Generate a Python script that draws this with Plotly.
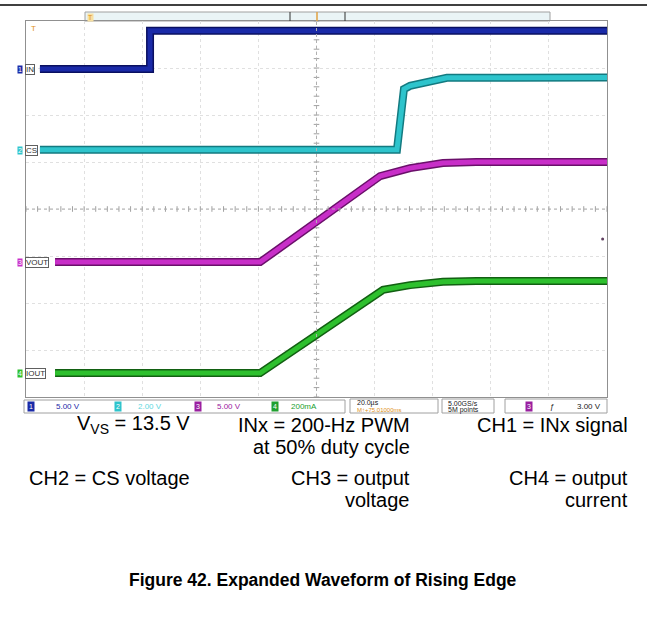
import numpy as np
import plotly.graph_objects as go

W, H = 647, 620

# scope screen: 10 x 8 divisions, 20 us/div, values in divisions
t_ch1 = [-95.2, -57.3, -57.3, 100.0]
v_ch1 = [2.98, 2.98, 3.79, 3.79]

t_ch2 = [-95.2, 27.7, 30.1, 32.2, 44.9, 100.0]
v_ch2 = [1.26, 1.26, 2.55, 2.62, 2.79, 2.80]

t_ch3 = [-90.0, -19.4, 21.9, 32.2, 43.5, 55.0, 100.0]
v_ch3 = [-1.13, -1.13, 0.70, 0.87, 0.98, 1.00, 1.00]

t_ch4 = [-90.0, -19.4, 22.9, 32.2, 43.5, 55.0, 100.0]
v_ch4 = [-3.49, -3.49, -1.72, -1.62, -1.55, -1.53, -1.53]

channels = [
    ('IN', t_ch1, v_ch1, '#1a2aa8', '#0a1060'),
    ('CS', t_ch2, v_ch2, '#2ec4cc', '#137a80'),
    ('VOUT', t_ch3, v_ch3, '#c82ec8', '#6a106a'),
    ('IOUT', t_ch4, v_ch4, '#2ec02e', '#126012'),
]

# plot area in pixels
L, R, T, B = 26, 607, 21, 397


def px(x):
    return x / W


def py(y):
    return 1 - y / H


fig = go.Figure()

# small tick marks on the centre cross
fig.add_trace(go.Scatter(
    x=np.arange(-100, 101, 4), y=np.zeros(51), mode='markers',
    marker=dict(symbol='line-ns', size=4, line=dict(color='#a0a0a0', width=1)),
    hoverinfo='skip', showlegend=False))
fig.add_trace(go.Scatter(
    x=np.zeros(41), y=np.arange(-4, 4.01, 0.2), mode='markers',
    marker=dict(symbol='line-ew', size=4, line=dict(color='#a0a0a0', width=1)),
    hoverinfo='skip', showlegend=False))

for name, t, v, col, edge in channels:
    fig.add_trace(go.Scatter(x=t, y=v, mode='lines', line=dict(color=edge, width=8),
                             hoverinfo='skip', showlegend=False))
    fig.add_trace(go.Scatter(x=t, y=v, mode='lines', line=dict(color=col, width=5),
                             name=name, showlegend=False))

# trigger level dot on the right
fig.add_trace(go.Scatter(x=[98.5], y=[-0.64], mode='markers',
                         marker=dict(color='#604060', size=3), showlegend=False))

shapes = [
    # rule at top of page
    dict(type='line', xref='paper', yref='paper', x0=0, x1=1, y0=py(5), y1=py(5),
         line=dict(color='black', width=1.5)),
    # centre cross
    dict(type='line', xref='x', yref='y', x0=0, x1=0, y0=-4, y1=4,
         line=dict(color='#b0b0b0', width=1, dash='dot')),
    dict(type='line', xref='x', yref='y', x0=-100, x1=100, y0=0, y1=0,
         line=dict(color='#b0b0b0', width=1, dash='dot')),
    # top record bar
    dict(type='rect', xref='paper', yref='paper', x0=px(85), x1=px(550), y0=py(21), y1=py(12),
         fillcolor='#eaf4f6', line=dict(color='#a0a0a0', width=1), layer='below'),
    dict(type='line', xref='paper', yref='paper', x0=px(290), x1=px(290), y0=py(21), y1=py(12),
         line=dict(color='#303030', width=1)),
    dict(type='line', xref='paper', yref='paper', x0=px(345), x1=px(345), y0=py(21), y1=py(12),
         line=dict(color='#303030', width=1)),
    dict(type='line', xref='paper', yref='paper', x0=px(317), x1=px(317), y0=py(21), y1=py(12),
         line=dict(color='#e0a040', width=1.5)),
    # bottom info bar boxes
    dict(type='rect', xref='paper', yref='paper', x0=px(24), x1=px(345), y0=py(413), y1=py(400),
         line=dict(color='#a0a0a0', width=1)),
    dict(type='rect', xref='paper', yref='paper', x0=px(350), x1=px(438), y0=py(413), y1=py(399),
         line=dict(color='#a0a0a0', width=1)),
    dict(type='rect', xref='paper', yref='paper', x0=px(442), x1=px(494), y0=py(413), y1=py(399),
         line=dict(color='#a0a0a0', width=1)),
    dict(type='rect', xref='paper', yref='paper', x0=px(505), x1=px(607), y0=py(413), y1=py(399),
         line=dict(color='#a0a0a0', width=1)),
]

ann = []


def note(x, y, text, size=8, color='#202020', anchor='center', **kw):
    ann.append(dict(x=px(x), y=py(y), xref='paper', yref='paper', text=text, showarrow=False,
                    xanchor=anchor, yanchor='middle', font=dict(size=size, color=color), **kw))


# channel tags on the left
tags = [('1', 'IN', 69, '#1a2aa8'), ('2', 'CS', 150, '#2ec4cc'),
        ('3', 'VOUT', 262, '#c82ec8'), ('4', 'IOUT', 373, '#2ec02e')]
for num, lab, y, col in tags:
    note(20, y, num, size=7, color='white', bgcolor=col, borderpad=0)
    note(25, y, lab, size=8, color='#303030', anchor='left', bgcolor='white',
         bordercolor='#606060', borderwidth=1, borderpad=0)

note(33, 29, 'T', size=8, color='#e09020')
note(90, 17, 'T', size=7, color='#e09020', bgcolor='#f8e0a0', borderpad=0)

# info bar
info = [(31, '1', '#1a2aa8'), (118, '2', '#2ec4cc'), (198, '3', '#9a20a0'), (275, '4', '#20a030'),
        (529, '3', '#9a20a0')]
for x, n, c in info:
    note(x, 406.5, n, size=7, color='white', bgcolor=c, borderpad=1)
note(54, 406.5, '5.00 V', color='#1a2aa8', anchor='left')
note(136, 406.5, '2.00 V', color='#60d8e0', anchor='left')
note(215, 406.5, '5.00 V', color='#9a20a0', anchor='left')
note(289, 406.5, '200mA', color='#20a030', anchor='left')
note(355, 403, '20.0µs', size=7, color='#202020', anchor='left')
note(355, 409.5, 'M↑+75.01000ms', size=6, color='#e09020', anchor='left')
note(446, 403, '5.00GS/s', size=7, color='#202020', anchor='left')
note(446, 409.5, '5M points', size=7, color='#202020', anchor='left')
note(552, 406.5, 'ƒ', color='#202020')
note(603, 406.5, '3.00 V', color='#202020', anchor='right')

# captions
cap = dict(size=20, color='black')
for x, y, text in [(192, 425, 'V<sub>VS</sub> = 13.5 V'), (412, 425, 'INx = 200-Hz PWM'),
                   (412, 447, 'at 50% duty cycle'), (630, 425, 'CH1 = INx signal'),
                   (192, 478, 'CH2 = CS voltage'), (412, 478, 'CH3 = output'),
                   (412, 500, 'voltage'), (630, 478, 'CH4 = output'), (630, 500, 'current')]:
    ann.append(dict(x=px(x), y=py(y), xref='paper', yref='paper', text=text, showarrow=False,
                    xanchor='right', yanchor='middle', font=cap))

ann.append(dict(x=px(323), y=py(580), xref='paper', yref='paper',
                text='<b>Figure 42. Expanded Waveform of Rising Edge</b>', showarrow=False,
                xanchor='center', yanchor='middle', font=dict(size=17.5, color='black')))

fig.update_layout(
    width=W, height=H,
    margin=dict(l=0, r=0, t=0, b=0),
    plot_bgcolor='white',
    paper_bgcolor='white',
    font=dict(family='Liberation Sans, Arial, sans-serif'),
    shapes=shapes,
    annotations=ann,
    xaxis=dict(domain=[px(L), px(R)], range=[-100, 100], dtick=20, showticklabels=False,
               showgrid=True, gridcolor='#e0e0e0', griddash='dot', zeroline=False,
               showline=True, mirror=True, linecolor='#909090', linewidth=1, fixedrange=True),
    yaxis=dict(domain=[py(B), py(T)], range=[-4, 4], dtick=1, showticklabels=False,
               showgrid=True, gridcolor='#e0e0e0', griddash='dot', zeroline=False,
               showline=True, mirror=True, linecolor='#909090', linewidth=1, fixedrange=True),
)

# drop the default 8px body margin so the figure sits at the page origin
fig.write_html("out.html", config={'displayModeBar': False},
               post_script="document.body.style.margin='0';")
